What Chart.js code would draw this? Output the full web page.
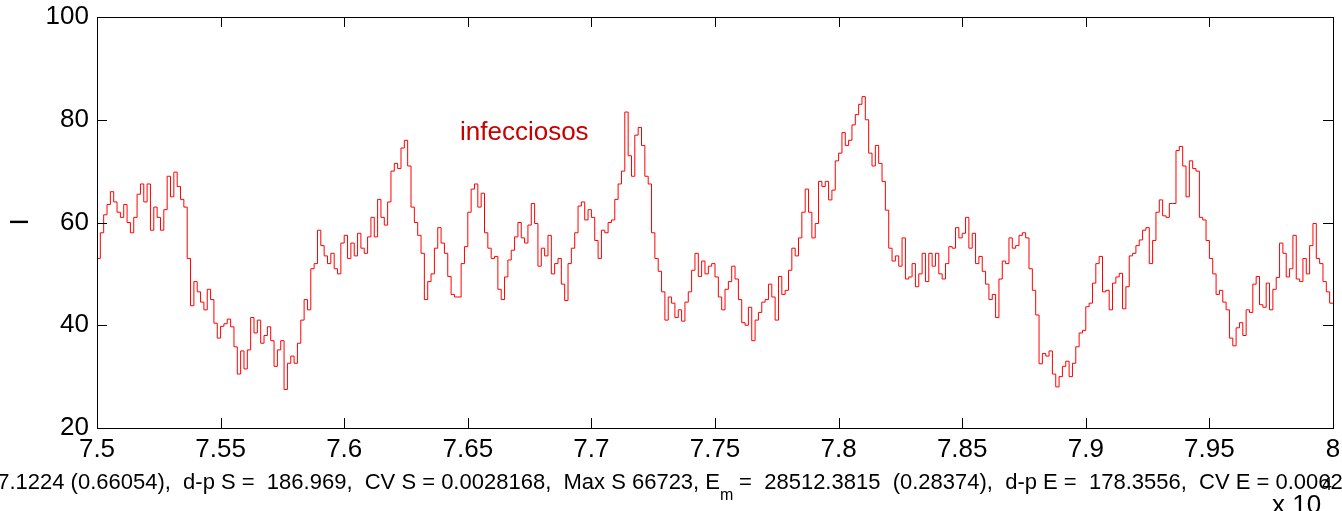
<!DOCTYPE html>
<html>
<head>
<meta charset="utf-8">
<script src="https://cdn.jsdelivr.net/npm/chart.js@4.4.1/dist/chart.umd.min.js"></script>
<style>
  html, body { margin: 0; padding: 0; background: #fff; }
  #wrap { width: 1342px; height: 511px; }
</style>
</head>
<body>
<div id="wrap"><canvas id="chart" width="1342" height="511"></canvas></div>
<script>
const tStart = 7.5;
const tEnd = 8;
const infected = [
  60, 53, 58, 61.5, 63.5, 66, 64, 62, 61, 63.5,
  60, 58, 61, 65.5, 67.5, 64, 67.5, 58.5, 63, 61,
  58.5, 62.5, 69, 65, 69.8, 67, 64.5, 63, 53, 43.8,
  48.5, 46.5, 44.5, 43, 47, 45, 40.4, 37.5, 39.8, 40.3,
  41.2, 39.7, 35.8, 30.5, 35, 31.5, 35.2, 41.5, 38.5, 41,
  36.5, 38, 39.7, 37, 32, 35.2, 37, 27.5, 32.6, 34,
  32.6, 36.5, 41, 45, 43, 51, 52, 58.5, 55.5, 53.5,
  52, 54, 51, 50, 56, 57.5, 53, 56, 53.5, 57.9,
  55, 54, 57.2, 61, 57.2, 64.5, 61, 59.5, 64, 70,
  71.5, 70.5, 74.5, 76, 71, 63, 60, 57.5, 54, 45,
  48.5, 50, 55, 59, 56, 54, 49.5, 46, 45.5, 45.5,
  52, 55.3, 62, 66.5, 67.5, 63, 65.7, 58, 55, 53,
  53.4, 47, 45, 49.4, 52.7, 54.6, 57.2, 60, 57, 56,
  59.5, 63.7, 59.8, 51.5, 55, 53.5, 57.5, 50, 52, 53,
  48, 44.8, 52, 55, 58, 63.2, 64, 60.5, 62.5, 61,
  56.5, 53, 58.5, 58, 60, 60.5, 64.5, 67.5, 70, 81.5,
  73, 69, 77, 78.5, 75, 69, 67.5, 58, 53, 50.5,
  46.5, 41, 45.5, 44.3, 41.5, 43, 40.8, 44.5, 46.5, 50.7,
  54, 49.5, 52.5, 50, 51.5, 52, 49.4, 45.5, 43, 47,
  48.5, 51.5, 49, 45, 40.5, 40, 43.5, 37, 41, 42.5,
  44.5, 45, 48, 45.5, 41, 49.5, 46, 46.8, 50.7, 55,
  53.5, 57, 62, 66.5, 62, 57, 59.8, 68, 67, 68,
  64.4, 66.3, 72, 73.5, 77.5, 75, 76, 79, 81, 83,
  84.5, 80, 73.5, 71, 75, 71.5, 68, 62.4, 55, 52.5,
  53.5, 51.5, 57, 49, 49.4, 52, 47.5, 50, 54, 48.5,
  54, 51.5, 54, 50, 49, 52, 55.3, 55, 59, 57,
  57.9, 61, 55, 57.9, 52, 53.4, 50.5, 48, 45, 46,
  41.5, 49, 52.5, 52, 57, 55, 55.5, 57.5, 58, 57,
  51, 46.8, 42, 32.5, 34.5, 34, 35, 30.5, 28, 30,
  32, 33, 30, 32.6, 35.8, 38.5, 39, 43.6, 44.3, 48.2,
  52, 53.4, 46.5, 46.8, 43, 48.2, 49.4, 50.1, 43.2, 47.5,
  53.5, 54, 55.5, 56.6, 58.5, 59, 52, 56.5, 62, 64.4,
  61.3, 61, 63.7, 63.7, 74, 74.8, 71, 65, 72, 70.5,
  70, 61, 60.5, 56.5, 53, 50, 46, 46.8, 44.5, 43,
  37.5, 36, 39.5, 40.5, 38, 43, 42.5, 48, 49.5, 44,
  43.5, 48.2, 43, 47, 49.3, 56, 54, 49.4, 51, 57.5,
  49, 48.5, 53, 50, 55.5, 59.8, 53, 52, 48.5, 46.5,
  44.3
];

const xTicks = [7.5, 7.55, 7.6, 7.65, 7.7, 7.75, 7.8, 7.85, 7.9, 7.95, 8];
const xTickLabels = ['7.5', '7.55', '7.6', '7.65', '7.7', '7.75', '7.8', '7.85', '7.9', '7.95', '8'];
const yTicks = [20, 40, 60, 80, 100];

const curveLabel = 'infecciosos';
const yTitle = 'I';
const statsLeft = '7.1224 (0.66054),  d-p S =  186.969,  CV S = 0.0028168,  Max S 66723, E';
const statsSub = 'm';
const statsRight = ' =  28512.3815  (0.28374),  d-p E =  178.3556,  CV E = 0.0062';
const exponentBase = 'x 10';
const exponent = '4';

const FONT = '"Liberation Sans", Arial, Helvetica, sans-serif';

const points = infected.map((v, i) => ({
  x: tStart + i * (tEnd - tStart) / (infected.length - 1),
  y: v
}));

// box + inward ticks on all four sides, plus the free text
const matlabAxes = {
  id: 'matlabAxes',
  afterDraw(chart) {
    const ctx = chart.ctx;
    const a = chart.chartArea;
    const xs = chart.scales.x, ys = chart.scales.y;
    const tl = 10;
    ctx.save();
    ctx.strokeStyle = '#000';
    ctx.lineWidth = 1;
    ctx.strokeRect(Math.round(a.left) + 0.5, Math.round(a.top) + 0.5,
      Math.round(a.right - a.left), Math.round(a.bottom - a.top));
    ctx.beginPath();
    xTicks.forEach(v => {
      const px = Math.round(xs.getPixelForValue(v)) + 0.5;
      ctx.moveTo(px, a.bottom); ctx.lineTo(px, a.bottom - tl);
      ctx.moveTo(px, a.top); ctx.lineTo(px, a.top + tl);
    });
    yTicks.forEach(v => {
      const py = Math.round(ys.getPixelForValue(v)) + 0.5;
      ctx.moveTo(a.left, py); ctx.lineTo(a.left + tl, py);
      ctx.moveTo(a.right, py); ctx.lineTo(a.right - tl, py);
    });
    ctx.stroke();

    ctx.fillStyle = '#c80000';
    ctx.font = '26px ' + FONT;
    ctx.textAlign = 'left';
    ctx.textBaseline = 'alphabetic';
    ctx.fillText(curveLabel, 460, 140);

    ctx.fillStyle = '#000';
    ctx.save();
    ctx.translate(28, 222);
    ctx.rotate(-Math.PI / 2);
    ctx.textAlign = 'center';
    ctx.fillText(yTitle, 0, 0);
    ctx.restore();

    ctx.font = '22px ' + FONT;
    ctx.textAlign = 'right';
    ctx.fillText(statsLeft, 720, 489);
    ctx.textAlign = 'left';
    ctx.fillText(statsRight, 733, 489);
    ctx.font = '16px ' + FONT;
    ctx.fillText(statsSub, 720, 500);

    ctx.font = '26px ' + FONT;
    ctx.fillText(exponentBase, 1272, 513);
    ctx.font = '18px ' + FONT;
    ctx.fillText(exponent, 1322, 490);
    ctx.restore();
  }
};

new Chart(document.getElementById('chart'), {
  type: 'line',
  data: {
    datasets: [{
      label: curveLabel,
      data: points,
      borderColor: '#ff0000',
      borderWidth: 1,
      pointRadius: 0,
      stepped: 'after',
      fill: false
    }]
  },
  options: {
    responsive: false,
    animation: false,
    devicePixelRatio: 1,
    layout: { padding: { left: 0, right: 9, top: 17, bottom: 0 } },
    plugins: { legend: { display: false }, tooltip: { enabled: false } },
    scales: {
      x: {
        type: 'linear',
        min: tStart,
        max: tEnd,
        afterBuildTicks: s => { s.ticks = xTicks.map(v => ({ value: v })); },
        afterFit: s => { s.height = 83; s.paddingLeft = 0; s.paddingRight = 0; },
        grid: { display: false, drawTicks: false },
        border: { display: false },
        ticks: {
          autoSkip: false,
          maxRotation: 0,
          padding: 6,
          color: '#000',
          font: { family: FONT, size: 26 },
          callback: (v, i) => xTickLabels[i]
        }
      },
      y: {
        min: 20,
        max: 100,
        afterBuildTicks: s => { s.ticks = yTicks.map(v => ({ value: v })); },
        afterFit: s => { s.width = 97; s.paddingTop = 0; s.paddingBottom = 0; },
        grid: { display: false, drawTicks: false },
        border: { display: false },
        ticks: {
          padding: 8,
          color: '#000',
          font: { family: FONT, size: 26 }
        }
      }
    }
  },
  plugins: [matlabAxes]
});
</script>
</body>
</html>
